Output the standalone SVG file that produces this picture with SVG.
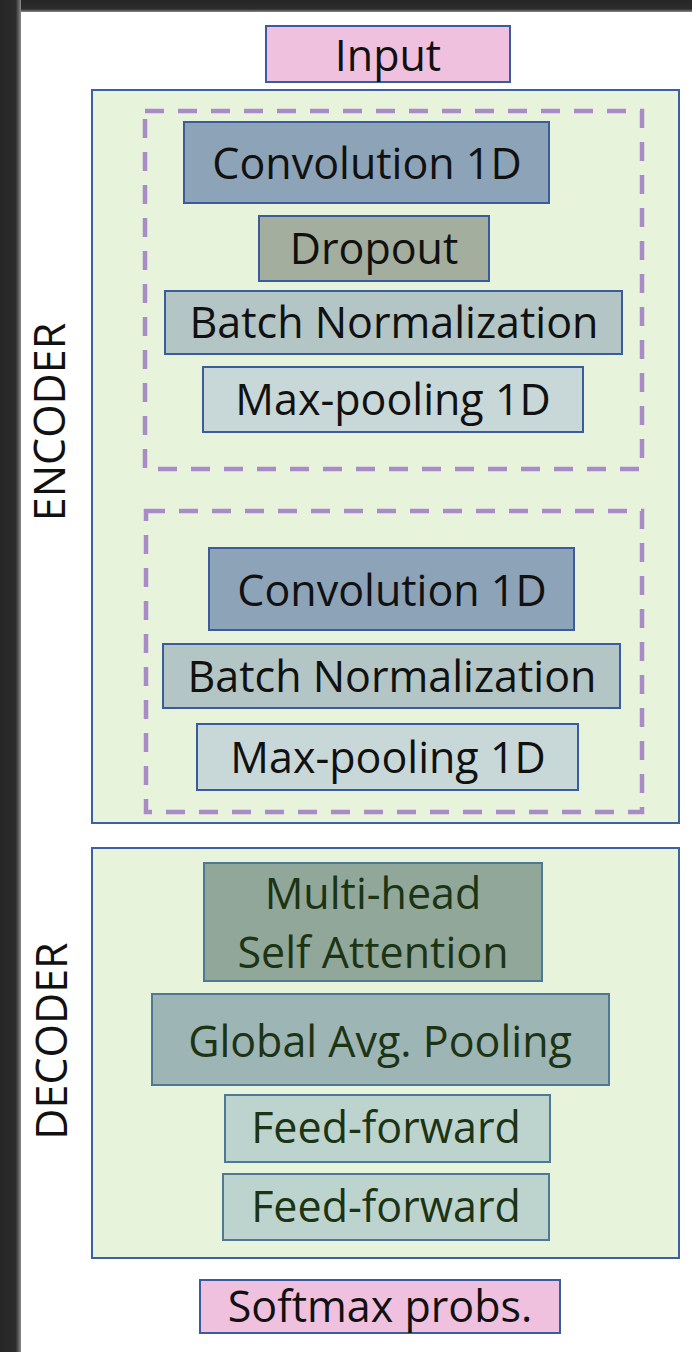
<svg xmlns="http://www.w3.org/2000/svg" width="692" height="1352" viewBox="0 0 692 1352">
<defs>
<linearGradient id="shL" x1="0" x2="1" y1="0" y2="0"><stop offset="0" stop-color="#262626"/><stop offset="0.75" stop-color="#2c2c2c"/><stop offset="1" stop-color="#8a8a8a"/></linearGradient>
<linearGradient id="shT" x1="0" x2="0" y1="0" y2="1"><stop offset="0" stop-color="#262626"/><stop offset="0.75" stop-color="#2c2c2c"/><stop offset="1" stop-color="#8a8a8a"/></linearGradient>
</defs>
<style>
.t{font-family:"Open Sans","Lato","DejaVu Sans",sans-serif;font-size:43px;text-anchor:middle;fill:#111}
.d{fill:#1c3414}
.box{stroke:#3b5c9c;stroke-width:2}
.grp{fill:#e8f3dc;stroke:#3e5fa0;stroke-width:2}
.dash{fill:none;stroke:#a98bc8;stroke-width:4.5;stroke-dasharray:19 14}
.pink{fill:#efc1de}
.conv{fill:#8da3b8}
.drop{fill:#a3ae9f}
.bn{fill:#b3c5c5}
.mp{fill:#c8d8d8}
.mh{fill:#90a79a;stroke:#4d7896}
.gap{fill:#9db5b5;stroke:#4d7896}
.ff{fill:#bdd3ce;stroke:#4d7896}
</style>
<rect x="0" y="0" width="692" height="1352" fill="#272727"/>
<rect x="0" y="0" width="692" height="12" fill="url(#shT)"/>
<rect x="0" y="0" width="21" height="1352" fill="url(#shL)"/>
<rect x="21" y="12" width="671" height="1340" fill="#ffffff"/>

<g id="input"><rect class="box pink" x="266" y="26" width="244" height="56"/><text class="t" x="388" y="71">Input</text></g>

<g id="encoder">
<rect class="grp" x="92" y="90" width="587" height="733"/>
<text class="t" transform="translate(65 422) rotate(-90)">ENCODER</text>
</g>
<g id="block1"><rect class="dash" x="145" y="111" width="497" height="358"/></g>
<g id="conv1"><rect class="box conv" x="184" y="122" width="365" height="81"/><text class="t" x="367" y="179">Convolution 1D</text></g>
<g id="dropout"><rect class="box drop" x="259" y="216" width="230" height="65"/><text class="t" x="374" y="264">Dropout</text></g>
<g id="bn1"><rect class="box bn" x="165" y="291" width="457" height="63"/><text class="t" x="394" y="338">Batch Normalization</text></g>
<g id="mp1"><rect class="box mp" x="203" y="367" width="380" height="65"/><text class="t" x="393" y="415">Max-pooling 1D</text></g>

<g id="block2"><rect class="dash" x="146" y="511" width="496" height="301"/></g>
<g id="conv2"><rect class="box conv" x="209" y="548" width="365" height="82"/><text class="t" x="392" y="606">Convolution 1D</text></g>
<g id="bn2"><rect class="box bn" x="163" y="644" width="457" height="64"/><text class="t" x="392" y="692">Batch Normalization</text></g>
<g id="mp2"><rect class="box mp" x="197" y="724" width="381" height="66"/><text class="t" x="388" y="773">Max-pooling 1D</text></g>

<g id="decoder">
<rect class="grp" x="92" y="848" width="587" height="410"/>
<text class="t" transform="translate(67 1041) rotate(-90)">DECODER</text>
</g>
<g id="mhsa"><rect class="box mh" x="204" y="863" width="338" height="118"/><text class="t d" x="373" y="909">Multi-head</text><text class="t d" x="373" y="968">Self Attention</text></g>
<g id="gap"><rect class="box gap" x="152" y="994" width="457" height="91"/><text class="t d" x="380" y="1057">Global Avg. Pooling</text></g>
<g id="ff1"><rect class="box ff" x="225" y="1095" width="325" height="67"/><text class="t d" x="386" y="1143">Feed-forward</text></g>
<g id="ff2"><rect class="box ff" x="223" y="1174" width="326" height="66"/><text class="t d" x="386" y="1222">Feed-forward</text></g>

<g id="softmax"><rect class="box pink" x="200" y="1280" width="360" height="53"/><text class="t" x="380" y="1322">Softmax probs.</text></g>
<g id="connectors"></g>
</svg>
